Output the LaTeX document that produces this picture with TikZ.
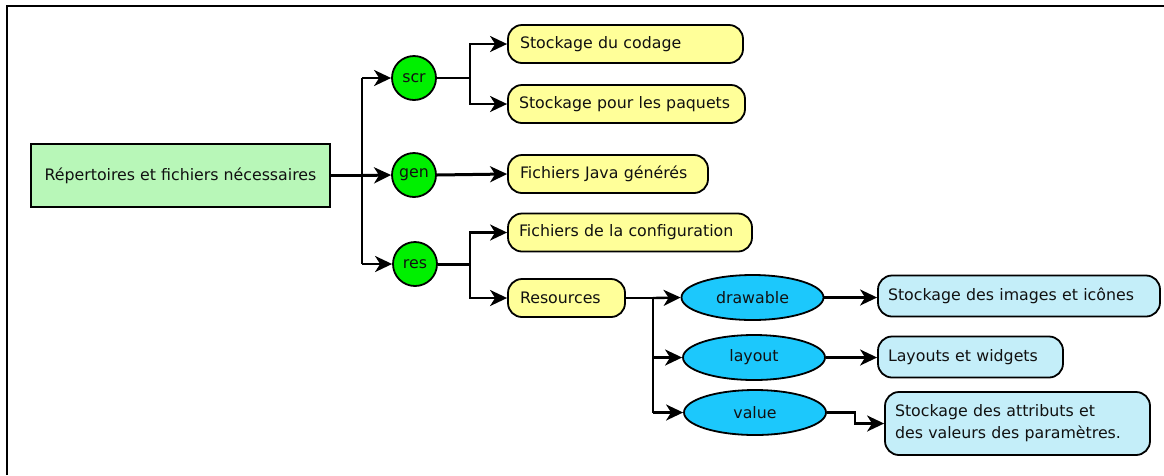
\documentclass[tikz,border=0pt]{standalone}
\usepackage{fontspec}
\setmainfont{DejaVu Sans}
\usetikzlibrary{arrows.meta,shapes.geometric,calc}
\definecolor{mgreen}{HTML}{B8F7B8}
\definecolor{cgreen}{HTML}{00F000}
\definecolor{yel}{HTML}{FFFF99}
\definecolor{eblue}{HTML}{1CC8FC}
\definecolor{lblue}{HTML}{C4EEF9}
\definecolor{txt}{HTML}{111111}
\tikzset{
  base/.style={draw=black, line width=1.8pt, text=txt, font=\fontsize{15.8}{22}\selectfont, inner sep=0pt},
  mainbox/.style={base, rectangle, fill=mgreen, minimum width=299pt, minimum height=63pt},
  circ/.style={base, circle, fill=cgreen, minimum size=44pt},
  ybox/.style={base, rectangle, rounded corners=14pt, fill=yel, minimum height=38pt, text width=#1, align=left},
  ell/.style={base, ellipse, fill=eblue, minimum width=142pt, minimum height=45pt},
  bbox/.style={base, rectangle, rounded corners=14pt, fill=lblue, minimum height=41pt, text width=#1, align=left},
  conn/.style={line width=2.4pt, -{Stealth[length=17pt,width=16pt,inset=5pt]}},
  thick conn/.style={line width=3pt, -{Stealth[length=17pt,width=16pt,inset=5pt]}},
  plain/.style={line width=2.4pt}
}
\begin{document}
\begin{tikzpicture}[x=1pt,y=-1pt]
\useasboundingbox (0,0) rectangle (1164,475);
\fill[white] (0,0) rectangle (1164,475);
\draw[line width=2.2pt] (7,475) -- (7,6) -- (1164,6);

\node[mainbox] (main) at (180.5,175.5) {Répertoires et fichiers nécessaires};

\node[circ] (scr) at (414,78) {scr};
\node[circ] (gen) at (414,175) {gen};
\node[circ] (res) at (415,264) {res};

\node[ybox=211pt, minimum width=235pt] (cod) at (625.5,44) {Stockage du codage};
\node[ybox=215pt, minimum width=237pt] (paq) at (626.5,104) {Stockage pour les paquets};
\node[ybox=176pt, minimum width=200pt] (jav) at (608,174) {Fichiers Java générés};
\node[ybox=222pt, minimum width=244pt] (cfg) at (630,232.5) {Fichiers de la configuration};
\node[ybox=93pt, minimum width=117pt] (rsc) at (566.5,298) {Resources};

\node[ell] (draw) at (752.5,297.5) {drawable};
\node[ell] (lay) at (754,357.5) {layout};
\node[ell] (val) at (755,412.5) {value};

\node[bbox=262pt, minimum width=282pt] (img) at (1019,296) {Stockage des images et icônes};
\node[bbox=165pt, minimum width=185pt] (wid) at (970.5,357) {Layouts et widgets};
\node[bbox=245pt, minimum width=265pt, minimum height=63pt] (att) at (1017.5,423.5) {Stockage des attributs et\\des valeurs des paramètres.};

% main junction
\coordinate (j1) at (362,175.5);
\draw[line width=3pt] (main.east) -- (j1);
\draw[plain] (362,78) -- (362,264);
\draw[conn] (362,78) -- (scr.west);
\draw[thick conn] (j1) -- (gen.west);
\draw[conn] (362,264) -- (res.west);

% scr
\coordinate (j2) at (470,78);
\draw[plain] (scr.east) -- (j2);
\draw[conn] (j2) |- (cod.west);
\draw[conn] (j2) |- (paq.west);

% gen
\draw[thick conn] (gen.east) -- (jav.west);

% res
\coordinate (j3) at (470,264);
\draw[line width=3pt] (res.east) -- (j3);
\draw[conn] (j3) |- (cfg.west);
\draw[conn] (j3) |- (rsc.west);

% resources
\coordinate (j4) at (653,298);
\draw[plain] (rsc.east) -- (j4);
\draw[plain] (j4) -- (653,412.5);
\draw[conn] (j4) -- (draw.west);
\draw[conn] (653,357.5) -- (lay.west);
\draw[conn] (653,412.5) -- (val.west);

% ellipses to boxes
\draw[conn] (draw.east) -- (draw.east -| img.west);
\draw[conn] (lay.east) -- (lay.east -| wid.west);
\coordinate (j5) at (855,412.5);
\draw[conn] (val.east) -- (j5) |- (att.west);
\end{tikzpicture}
\end{document}
